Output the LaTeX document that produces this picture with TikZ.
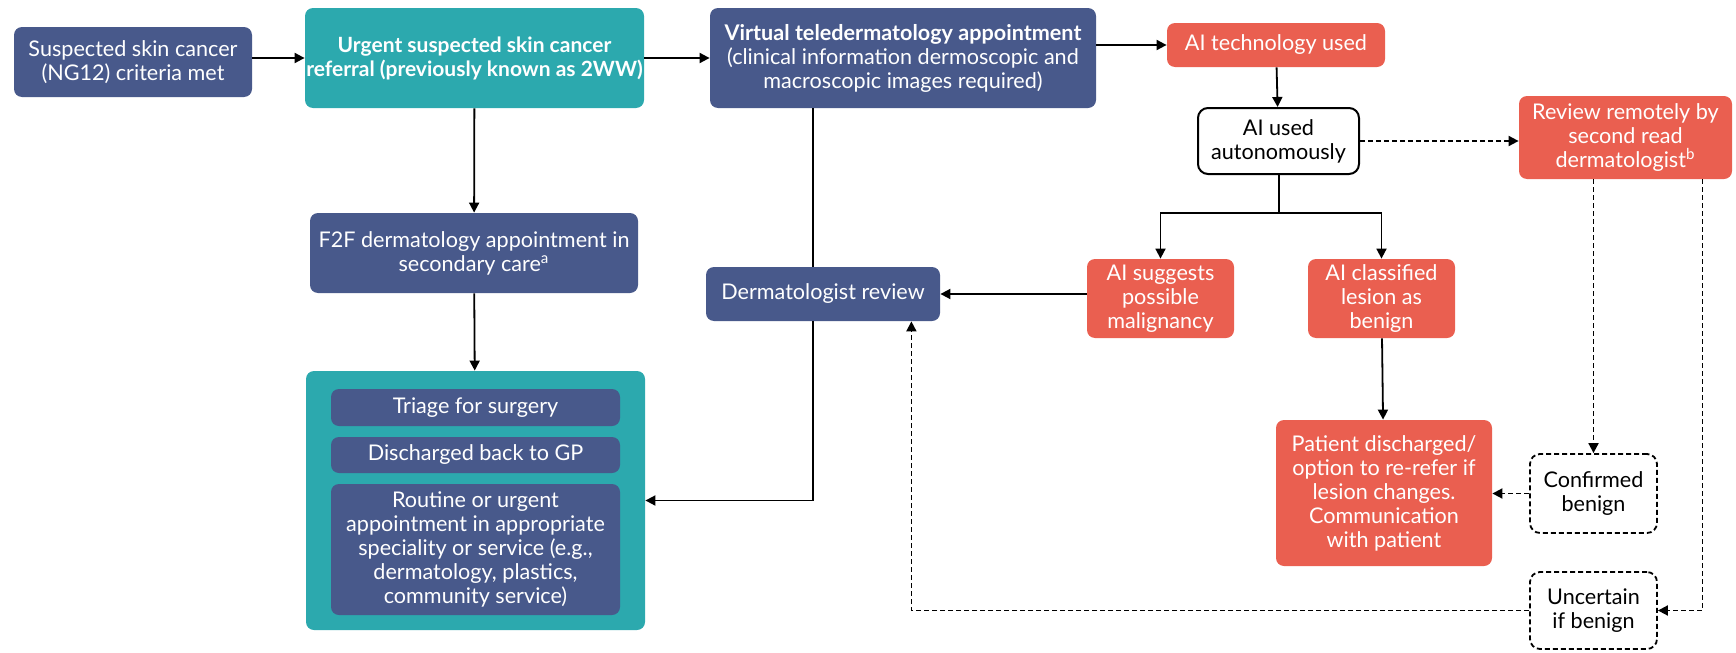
\documentclass[tikz,border=0pt]{standalone}
\usepackage{fontspec}
\setmainfont{Lato}
\usetikzlibrary{arrows.meta}
\usetikzlibrary{calc}
\definecolor{navybox}{RGB}{72,89,139}
\definecolor{tealbox}{RGB}{44,169,174}
\definecolor{coralbox}{RGB}{234,95,80}

\begin{document}
\begin{tikzpicture}[x=0.5pt,y=0.5pt,yscale=-1,
    every node/.style={font=\fontsize{10.8}{12}\selectfont, align=center, inner sep=0pt},
    navy/.style={fill=navybox, text=white, rounded corners=4pt},
    tealb/.style={fill=tealbox, text=white, rounded corners=4pt},
    coral/.style={fill=coralbox, text=white, rounded corners=4pt},
    plain/.style={draw=black, fill=white, line width=1pt, rounded corners=5pt},
    dashbox/.style={draw=black, line width=0.9pt, dash pattern=on 2.5pt off 1.5pt, rounded corners=5pt},
    wire/.style={line width=0.9pt},
    arr/.style={wire, -{Triangle[length=5pt,width=5pt]}},
    darr/.style={arr, dash pattern=on 2.5pt off 1.5pt}]
    \useasboundingbox (0,0) rectangle (1736,653); %same frame as the reference

    % Left column
    \node [navy, minimum width=119pt, minimum height=35pt] (crit) at (133,62) {Suspected skin cancer\\(NG12) criteria met};
    \node [tealb, minimum width=169.5pt, minimum height=50pt, font=\fontsize{10.5}{12}\selectfont\bfseries] (urgent) at (474.5,58) {Urgent suspected skin cancer\\referral (previously known as 2WW)};
    \node [navy, minimum width=164pt, minimum height=40pt] (f2f) at (474,253) {F2F dermatology appointment in\\secondary care\textsuperscript{a}};
    \node [tealb, minimum width=169.5pt, minimum height=129.5pt] (outcomes) at (475.5,500.5) {};
    \node [navy, minimum width=144.5pt, minimum height=18.5pt] (triage) at (475.5,407.5) {Triage for surgery};
    \node [navy, minimum width=144.5pt, minimum height=18pt] (backgp) at (475.5,455) {Discharged back to GP};
    \node [navy, minimum width=144.5pt, minimum height=65.5pt] (routine) at (475.5,549.5) {Routine or urgent\\appointment in appropriate\\speciality or service (e.g.,\\dermatology, plastics,\\community service)};

    % Middle column
    \node [navy, minimum width=193pt, minimum height=50pt] (tele) at (903,58) {\textbf{Virtual teledermatology appointment}\\(clinical information dermoscopic and\\macroscopic images required)};
    \node [navy, minimum width=117pt, minimum height=27pt] (derm) at (823,294) {Dermatologist review};
    \coordinate (teledrop) at (813,0);

    % AI branch
    \node [coral, minimum width=109pt, minimum height=22pt] (aitech) at (1276,45) {AI technology used};
    \node [plain, minimum width=80.5pt, minimum height=33pt] (aiauto) at (1278.5,141) {AI used\\autonomously};
    \node [coral, minimum width=106.5pt, minimum height=41.5pt] (second) at (1625.5,137.5) {Review remotely by\\second read\\dermatologist\textsuperscript{b}};
    \coordinate (fork) at (1279,213);
    \node [coral, minimum width=73.5pt, minimum height=39.5pt] (suggest) at (1160.5,298.5) {AI suggests\\possible\\malignancy};
    \node [coral, minimum width=73.5pt, minimum height=39.5pt] (classed) at (1381.5,298.5) {AI classified\\lesion as\\benign};
    \node [coral, minimum width=108pt, minimum height=73pt] (discharge) at (1384,493) {Patient discharged/\\option to re-refer if\\lesion changes.\\Communication\\with patient};
    \node [dashbox, minimum width=63.5pt, minimum height=39.5pt] (confirmed) at (1593.5,493.5) {Confirmed\\benign};
    \node [dashbox, minimum width=63.5pt, minimum height=38.5pt] (uncertain) at (1593.5,610.5) {Uncertain\\if benign};

    %Solid connectors
    \draw [arr] (crit.east |- urgent.west) -- (urgent.west);
    \draw [arr] (urgent.east |- tele.west) -- (tele.west);
    \draw [arr] (tele.east |- aitech.west) -- (aitech.west);
    \draw [arr] (urgent) -- (f2f);
    \draw [arr] (f2f) -- (outcomes);
    \draw [wire] (tele.south -| teledrop) -- (derm.north -| teledrop);
    \draw [arr] (derm.south -| teledrop) |- (outcomes.east);
    \draw [arr] (aitech) -- (aiauto);
    \draw [wire] (aiauto.south -| fork) -- (fork);
    \draw [arr] (fork) -| (suggest.north);
    \draw [arr] (fork) -| (classed.north);
    \draw [arr] (suggest.west |- derm.east) -- (derm.east);
    \draw [arr] (classed) -- (discharge);

    %Dashed connectors
    \draw [darr] (aiauto.east) -- (aiauto.east -| second.west);
    \draw [darr] (second.south -| confirmed.north) -- (confirmed.north);
    \draw [darr] ($(second.south east)+(-30,0)$) |- (uncertain.east);
    \draw [darr] (confirmed.west) -- (confirmed.west -| discharge.east);
    \draw [darr] (uncertain.west) -| ($(derm.south east)+(-29,0)$);
\end{tikzpicture}
\end{document}
